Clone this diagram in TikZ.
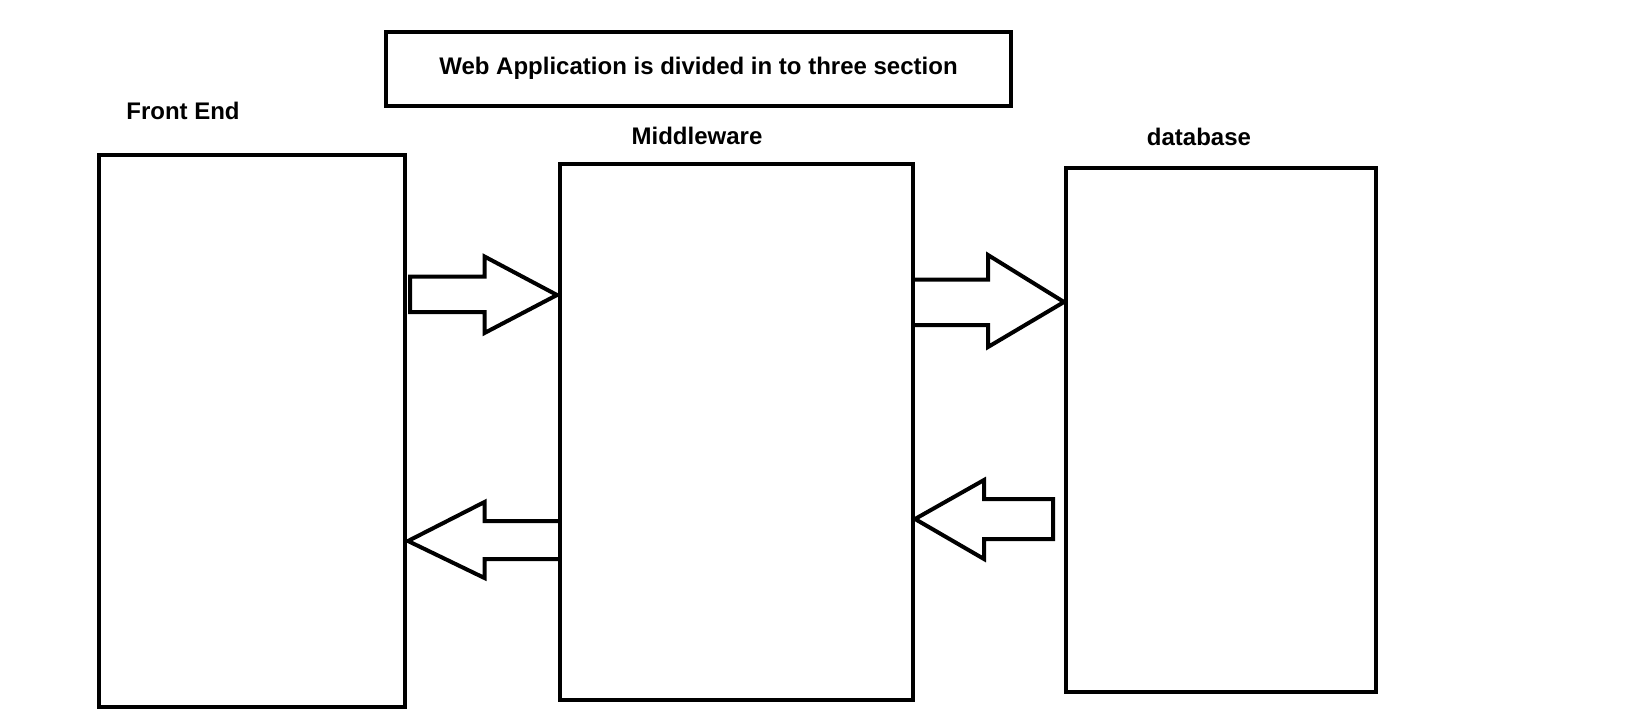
\documentclass[tikz,border=0pt]{standalone}
\usepackage{fontspec}
\setmainfont{Liberation Sans}
\begin{document}
\begin{tikzpicture}[x=1pt,y=-1pt,
  box/.style={draw, line width=4pt, inner sep=0pt, minimum width=#1},
  lbl/.style={font=\bfseries\fontsize{24}{28}\selectfont, inner sep=0pt},
  blockarrow/.style={draw, line width=4pt, line join=miter}]
\useasboundingbox (0,0) rectangle (1648,718);
% title
\node[box=625pt, minimum height=74.5pt] (title) at (698.5,68.75) {};
\node[lbl] (titletext) at (title.center) {Web Application is divided in to three section};
% boxes
\node[box=306pt, minimum height=552.5pt] (fe) at (252,430.75) {};
\node[box=353pt, minimum height=536pt] (mw) at (736.5,432) {};
\node[box=310pt, minimum height=524pt] (db) at (1221,430) {};
% labels
\node[lbl] (felbl) at (183,111) {Front End};
\node[lbl] (mwlbl) at (697,136) {Middleware};
\node[lbl] (dblbl) at (1199,137) {database};
% arrows
\draw[blockarrow] (410,276.5) -- (484.5,276.5) -- (484.5,256.5) -- (557,295)
  -- (484.5,333) -- (484.5,312) -- (410,312) -- cycle;
\draw[blockarrow] (mw.west |- 0,521) -- (484.5,521) -- (484.5,502) -- (408,541)
  -- (484.5,578) -- (484.5,559) -- (mw.west |- 0,559);
\draw[blockarrow] (mw.east |- 0,279.5) -- (988,279.5) -- (988,255) -- (1064,302)
  -- (988,347) -- (988,325) -- (mw.east |- 0,325);
\draw[blockarrow] (1053,499) -- (984,499) -- (984,480) -- (915,519)
  -- (984,559) -- (984,539) -- (1053,539) -- cycle;
\end{tikzpicture}
\end{document}
